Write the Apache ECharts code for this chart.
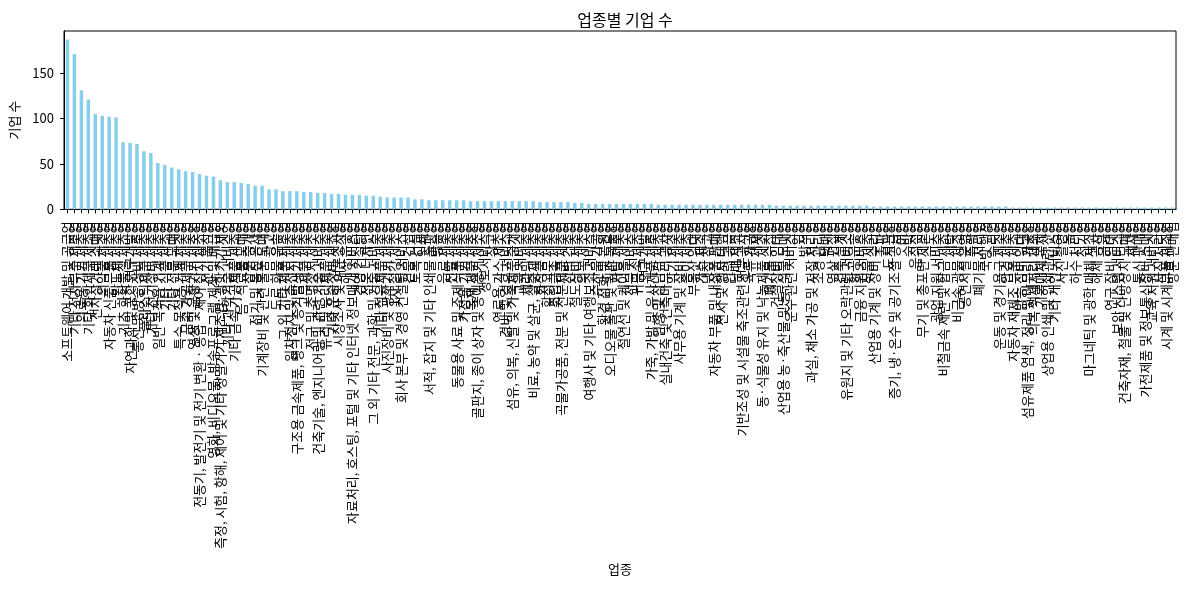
<!DOCTYPE html>
<html><head><meta charset="utf-8">
<script src="https://cdn.jsdelivr.net/npm/echarts@6/dist/echarts.min.js"></script>
<style>html,body{margin:0;padding:0;background:#fff}#c{width:1189px;height:590px}</style>
</head><body><div id="c"></div>
<script>
const categories = [
"소프트웨어 개발 및 공급업","기타 전자부품 제조업","의료용 기기 제조업","기타 화학제품 제조업","전자상거래 소매업",
"의약품 제조업","자동차 신품 부품 제조업","반도체 제조업","기초 화학물질 제조업","자연과학 및 공학 연구개발업",
"통신 및 방송 장비 제조업","플라스틱제품 제조업","기타 전기장비 제조업","일반 목적용 기계 제조업","기타 식품 제조업",
"기타 전문 도매업","특수 목적용 기계 제조업","금속 가공제품 제조업","영상 및 음향기기 제조업","전동기, 발전기 및 전기 변환 · 공급 · 제어 장치 제조업",
"전기 통신업","영화, 비디오물, 방송프로그램 제작 및 배급업","측정, 시험, 항해, 제어 및 기타 정밀기기 제조업; 광학기기 제외","기타 과학기술 서비스업","기타 금속 가공제품 제조업",
"음·식료품 도매업","상품 중개업","전기 및 통신 공사업","기계장비 및 관련 물품 도매업","광고업",
"도로 화물 운송업","그 외 기타 제품 제조업","일차전지 및 축전지 제조업","구조용 금속제품, 탱크 및 증기발생기 제조업","고무제품 제조업",
"전구 및 조명장치 제조업","건축기술, 엔지니어링 및 관련 기술 서비스업","유리 및 유리제품 제조업","기타 운송장비 제조업","시장조사 및 여론조사업",
"해상 운송업","자료처리, 호스팅, 포털 및 기타 인터넷 정보매개 서비스업","경영 컨설팅업","전문 디자인업","그 외 기타 전문, 과학 및 기술 서비스업",
"기타 섬유제품 제조업","사진장비 및 광학기기 제조업","1차 철강 제조업","회사 본부 및 경영 컨설팅 서비스업","건물 건설업",
"토목 건설업","인쇄업","서적, 잡지 및 기타 인쇄물 출판업","방송업","음료 제조업",
"신발 제조업","동물용 사료 및 조제식품 제조업","가정용 기기 제조업","목재 제품 제조업","골판지, 종이 상자 및 종이용기 제조업",
"정보서비스업","창고업","연료용 가스 제조업","경비 및 경호 서비스업","섬유, 의복, 신발 및 가죽제품 중개업",
"교육 서비스업","세라믹 제조업","비료, 농약 및 살균, 살충제 제조업","화장품 제조업","합성고무 제조업",
"조립금속 제조업","곡물가공품, 전분 및 전분제품 제조업","선박 건조업","철도장비 제조업","의복 제조업",
"여행사 및 기타 여행보조 서비스업","수산물 가공업","환경 정화 및 복원업","오디오물 출판 및 원판 녹음업","가방 제조업",
"절연선 및 케이블 제조업","전문 서비스업","귀금속 제조업","연구개발업","가죽, 가방 및 유사제품 제조업",
"인형 및 장난감 제조업","실내건축 및 건축마무리 공사업","악기 제조업","사무용 기계 및 장비 제조업","종이 제조업",
"부동산 임대업","가스 제조업","냉장 창고업","자동차 부품 및 내장품 판매업","전시 및 행사 대행업",
"인력 공급업","담배 제조업","기반조성 및 시설물 축조관련 전문공사업","육류 가공업","제재업",
"동·식물성 유지 및 낙농제품 제조업","폐기물 수집업","건설장비 임대업","산업용 농·축산물 및 동·식물 도매업","운수 관련 서비스업",
"임업","방적업","과실, 채소 가공 및 저장 처리업","조경 관리업","택배업",
"영상 편집업","건축 설계업","유원지 및 기타 오락관련 서비스업","항공 운송업","금융 지원 서비스업",
"직물 제조업","산업용 기계 및 장비 수리업","출판업","도서관업","증기, 냉·온수 및 공기조절 공급업",
"어업","숙박업","음식점업","무기 및 총포탄 제조업","수도업",
"광업 지원 서비스업","비철금속 제련 및 합금 제조업","세탁업","비금속 광물 제조업","공연시설 운영업",
"측량업","폐기물 처리업","국방 행정","수리업","운동 및 경기용구 제조업",
"안경 제조업","자동차 재제조 부품 제조업","방송 장비 임대업","섬유제품 염색, 정리 및 마무리 가공업","의복 액세서리 제조업",
"기록매체 복제업","상업용 인쇄 및 인쇄관련 산업","기타 개인 서비스업","사진 촬영업","농업",
"하수 처리업","전기업","마그네틱 및 광학 매체 제조업","해체 공사업","금융업",
"연구 장비 임대업","보안 시스템 서비스업","건축자재, 철물 및 난방장치 도매업","세차업","통신 판매업",
"가전제품 및 정보통신장비 소매업","교육 지원 서비스업","사진 처리업","시계 및 시계부품 제조업","방문 판매업"
];
const companyCounts = [
187,171,131,121,105,103,102,101,74,73,
72,64,62,51,49,46,44,42,41,39,
37,36,32,30,30,29,28,26,26,22,
22,20,20,20,19,19,18,18,17,17,
16,16,16,15,15,14,13,13,13,13,
11,11,10,10,10,10,10,10,9,9,
9,9,9,9,9,9,9,9,8,8,
8,8,8,7,7,6,6,6,6,6,
6,6,6,6,6,5,5,5,5,5,
5,5,5,5,5,5,5,5,5,5,
5,5,4,4,4,4,4,4,4,4,
4,4,4,4,4,4,3,3,3,3,
3,3,3,3,3,3,3,3,3,3,
3,3,3,3,3,3,2,2,2,2,
2,2,2,2,2,2,2,2,2,2,
2,2,2,2,2,2,2,2,2,2
];
const yTicks = [0, 50, 100, 150];
const yMax = 196.35;

const FONT = '"Noto Sans CJK KR", "Noto Sans", sans-serif';
const chart = echarts.init(document.getElementById('c'), null, {renderer: 'canvas'});
chart.setOption({
  animation: false,
  backgroundColor: '#fff',
  title: {
    text: '업종별 기업 수', left: 620, top: 7, textAlign: 'center',
    textStyle: {fontSize: 16, fontWeight: 'normal', color: '#000', fontFamily: FONT}
  },
  grid: {left: 64, top: 31, width: 1112, height: 178.33, show: true, borderColor: '#000', borderWidth: 1, containLabel: false},
  xAxis: {
    type: 'category', data: categories, boundaryGap: true,
    axisLine: {show: true, lineStyle: {color: '#000', width: 1}},
    axisTick: {show: true, alignWithLabel: true, interval: 0, length: 4, lineStyle: {color: '#000', width: 1}},
    axisLabel: {interval: 0, rotate: 90, fontSize: 13, color: '#000', fontFamily: FONT, margin: 12},
    splitLine: {show: false},
    name: '업종', nameLocation: 'middle', nameGap: 353,
    nameTextStyle: {fontSize: 13, color: '#000', fontFamily: FONT}
  },
  yAxis: {
    type: 'value', min: 0, max: yMax, interval: 50,
    axisLine: {show: true, lineStyle: {color: '#000', width: 1}},
    axisTick: {show: true, length: 4, customValues: yTicks, lineStyle: {color: '#000', width: 1}},
    axisLabel: {customValues: yTicks, fontSize: 13, color: '#000', fontFamily: FONT, margin: 10},
    splitLine: {show: false},
    name: '기업 수', nameLocation: 'middle', nameGap: 43, nameRotate: 90,
    nameTextStyle: {fontSize: 13, color: '#000', fontFamily: FONT}
  },
  series: [{
    type: 'bar', data: companyCounts, barWidth: '50%',
    itemStyle: {color: '#87CEEB'}
  }]
});
</script>
</body></html>
